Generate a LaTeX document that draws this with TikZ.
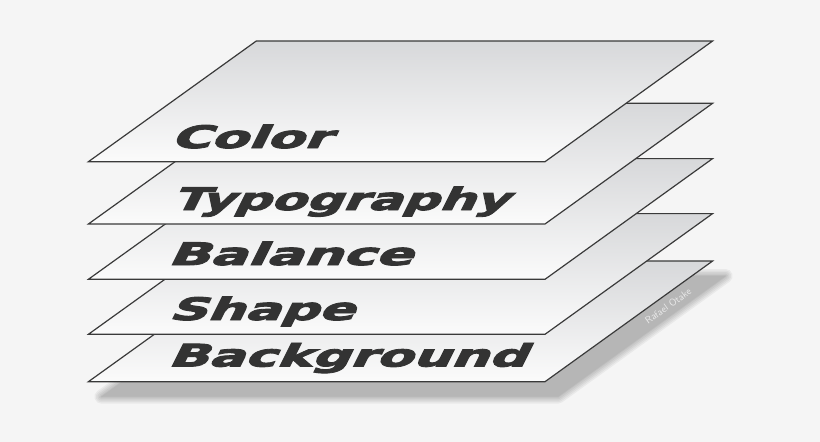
\documentclass[tikz,border=0pt]{standalone}
\usepackage{fontspec}
\newfontfamily\labfont[FakeBold=2.8]{DejaVu Sans Bold}
\begin{document}
\begin{tikzpicture}[x=1pt,y=-1pt]
\definecolor{bgc}{HTML}{F5F5F5}
\definecolor{edgec}{HTML}{3A3A3A}
\definecolor{txtc}{HTML}{333333}
\definecolor{layertop}{HTML}{D7D8DA}
\definecolor{layerbot}{HTML}{FBFBFB}
\tikzset{
  layer/.style={draw=edgec, line width=1.2pt, line join=miter, top color=layertop, bottom color=layerbot},
  lbl/.style={font=\labfont\fontsize{31}{31}\selectfont, text=txtc, inner sep=0pt, anchor=base west, xslant=0.5},
  shadowstep/.style={fill=black, draw=black, line join=round}
}
\fill[bgc] (0,0) rectangle (820,442);
\useasboundingbox (0,0) rectangle (820,442);
% shadow of the stack
\foreach \w in {14,11,8,5,2,0.1}{
  \begin{scope}[transparency group, opacity=0.048]
    \path[shadowstep, line width=\w pt] (101.4,396.7) -- (558,396.7) -- (725.6,276) -- (269.3,276) -- cycle;
  \end{scope}
}
% layers, bottom to top
\path[layer] (88.4,381.7) -- (545,381.7) -- (712.6,261) -- (256.3,261) -- cycle;
\path[layer] (88.4,334.3) -- (545,334.3) -- (712.6,213.6) -- (256.3,213.6) -- cycle;
\path[layer] (88.4,279.3) -- (545,279.3) -- (712.6,158.6) -- (256.3,158.6) -- cycle;
\path[layer] (88.4,224) -- (545,224) -- (712.6,103.3) -- (256.3,103.3) -- cycle;
\path[layer] (88.4,161.7) -- (545,161.7) -- (712.6,41) -- (256.3,41) -- cycle;
% labels
\node[lbl, xscale=1.75] (color) at (170,148) {Color};
\node[lbl, xscale=1.65] (typo) at (171,210) {Typography};
\node[lbl, xscale=1.78] (balance) at (167,265) {Balance};
\node[lbl, xscale=1.71] (shape) at (168,320) {Shape};
\node[lbl, xscale=1.72] (bg) at (167,366.5) {Background};
% watermark
\node[font=\sffamily\fontsize{10}{10}\selectfont, text=white, opacity=0.7, rotate=35.7, inner sep=0pt] (wm) at (668,306) {Rafael Otake};
\end{tikzpicture}
\end{document}
